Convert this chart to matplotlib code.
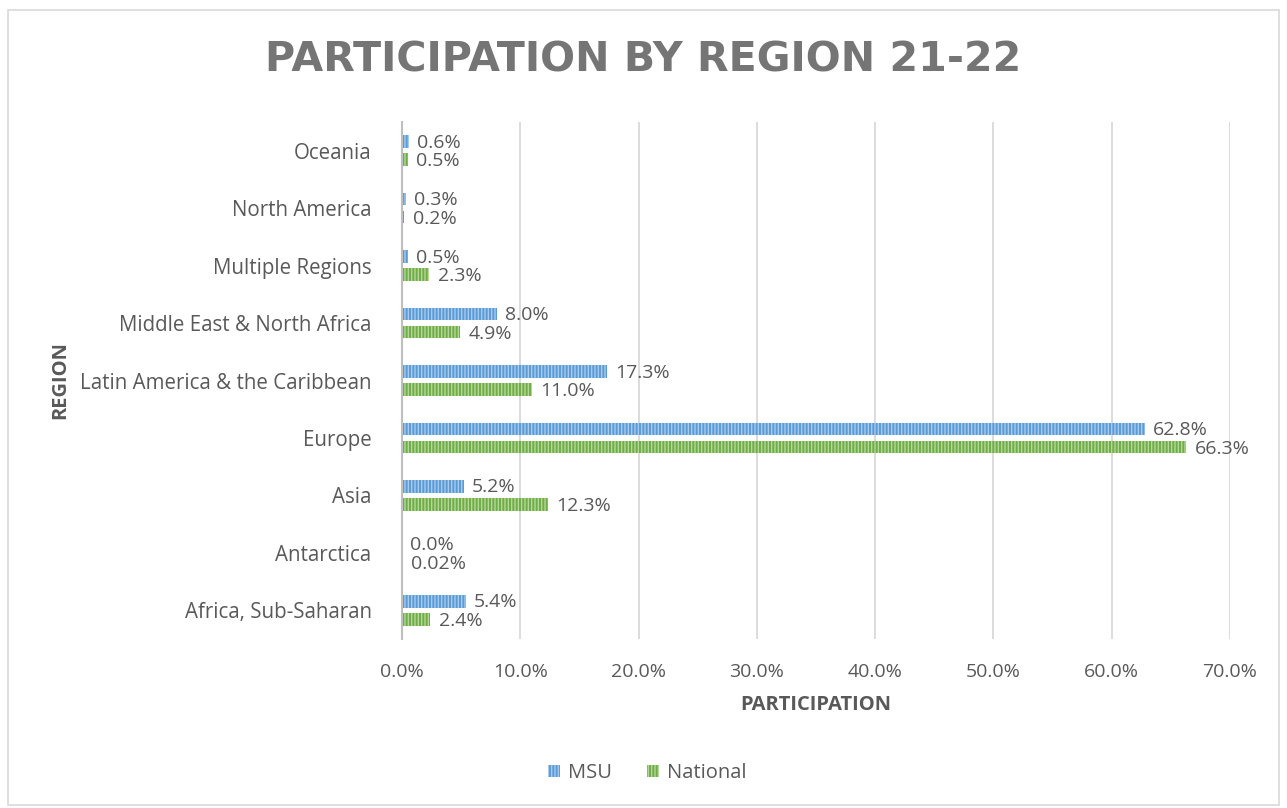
import matplotlib.pyplot as plt
import numpy as np
from matplotlib.patches import Rectangle
from matplotlib.ticker import FuncFormatter

plt.rcParams['font.family'] = ['Open Sans', 'DejaVu Sans']

# data, bottom to top as drawn
regions = ['Africa, Sub-Saharan', 'Antarctica', 'Asia', 'Europe',
           'Latin America & the Caribbean', 'Middle East & North Africa',
           'Multiple Regions', 'North America', 'Oceania']
msu = [5.4, 0.0, 5.2, 62.8, 17.3, 8.0, 0.5, 0.3, 0.6]
national = [2.4, 0.02, 12.3, 66.3, 11.0, 4.9, 2.3, 0.2, 0.5]
msu_labels = ['5.4%', '0.0%', '5.2%', '62.8%', '17.3%', '8.0%', '0.5%', '0.3%', '0.6%']
national_labels = ['2.4%', '0.02%', '12.3%', '66.3%', '11.0%', '4.9%', '2.3%', '0.2%', '0.5%']
xticks = [0, 10, 20, 30, 40, 50, 60, 70]

grey = '#595959'

fig = plt.figure(figsize=(12.87, 8.08), dpi=100)
ax = fig.add_axes([0.3124, 0.209, 0.6433, 0.640])

y = np.arange(len(regions))
h = 0.22
b1 = ax.barh(y + 0.16, msu, height=h, color='#5B9BD5', edgecolor='#A7CBEE',
             linewidth=0, hatch='|||||', label='MSU', zorder=3)
b2 = ax.barh(y - 0.155, national, height=h, color='#70AD47', edgecolor='#B4D89A',
             linewidth=0, hatch='|||||', label='National', zorder=3)

for bar, txt in zip(b1, msu_labels):
    ax.text(bar.get_width() + 0.7, bar.get_y() + bar.get_height() / 2 - 0.02, txt,
            va='center', ha='left', fontsize=14, color=grey)
for bar, txt in zip(b2, national_labels):
    ax.text(bar.get_width() + 0.7, bar.get_y() + bar.get_height() / 2 - 0.03, txt,
            va='center', ha='left', fontsize=14, color=grey)

ax.set_xlim(0, 70)
ax.set_ylim(-0.5, len(regions) - 0.5)
ax.set_xticks(xticks)
ax.xaxis.set_major_formatter(FuncFormatter(lambda v, p: f'{v:.1f}%'))
ax.set_yticks(y)
ax.set_yticklabels(regions)
ax.tick_params(axis='both', length=0, labelsize=14, labelcolor=grey)
ax.tick_params(axis='y', labelsize=14.8, pad=22)
ax.tick_params(axis='x', pad=17)
ax.grid(axis='x', color='#d9d9d9', linewidth=1.3, zorder=0)
for s in ['top', 'right', 'bottom']:
    ax.spines[s].set_visible(False)
ax.spines['left'].set_color('#bfbfbf')
ax.spines['left'].set_linewidth(1.5)
ax.spines['left'].set_zorder(4)

fig.text(0.5, 1 - 61 / 808, 'PARTICIPATION BY REGION 21-22', ha='center', va='center',
         fontsize=29.6, fontweight='bold', color='#757575', family='DejaVu Sans')
fig.text(816 / 1287, 1 - 705 / 808, 'PARTICIPATION', ha='center', va='center',
         fontsize=14.5, fontweight='bold', color=grey)
fig.text(60 / 1287, 1 - 380 / 808, 'REGION', ha='center', va='center', rotation=90,
         fontsize=14.5, fontweight='bold', color=grey)

fig.legend(handles=[b1, b2], loc='center', bbox_to_anchor=(0.503, 1 - 773 / 808),
           ncol=2, frameon=False, fontsize=14.5, labelcolor=grey,
           handlelength=0.6, handleheight=0.6, columnspacing=1.7, handletextpad=0.4)

fig.patches.append(Rectangle((0.006, 0.004), 0.988, 0.984, transform=fig.transFigure,
                             fill=False, edgecolor='#d9d9d9', linewidth=1.2))

fig.savefig('out.png', dpi=100)
